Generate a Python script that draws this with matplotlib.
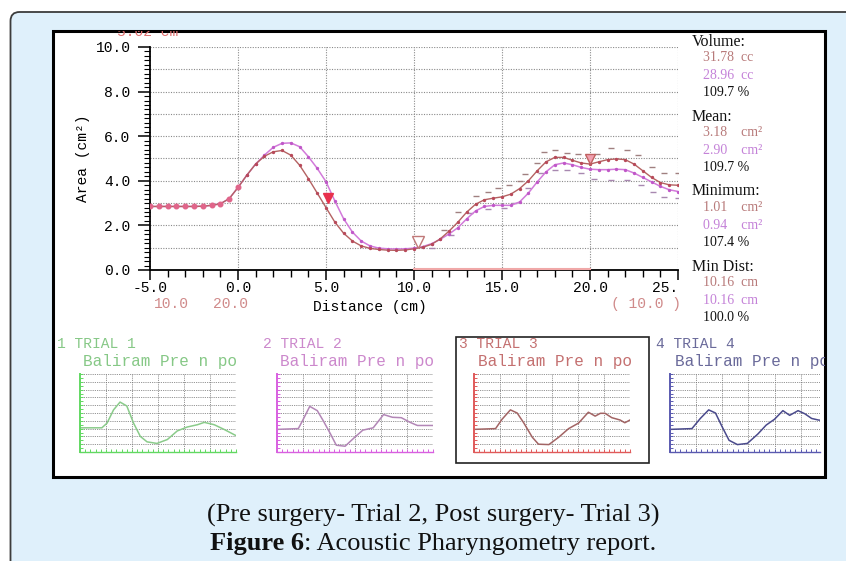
import matplotlib
matplotlib.use('Agg')
import matplotlib.pyplot as plt
from matplotlib.patches import Rectangle, FancyBboxPatch
from matplotlib.ticker import MultipleLocator

# ---------------- data ----------------
dist = [-5.0, -4.5, -4.0, -3.5, -3.0, -2.5, -2.0, -1.5, -1.0, -0.5,
        0.0, 0.5, 1.0, 1.5, 2.0, 2.5, 3.0, 3.5, 4.0, 4.5,
        5.0, 5.5, 6.0, 6.5, 7.0, 7.5, 8.0, 8.5, 9.0, 9.5,
        10.0, 10.5, 11.0, 11.5, 12.0, 12.5, 13.0, 13.5, 14.0, 14.5,
        15.0, 15.5, 16.0, 16.5, 17.0, 17.5, 18.0, 18.5, 19.0, 19.5,
        20.0, 20.5, 21.0, 21.5, 22.0, 22.5, 23.0, 23.5, 24.0, 24.5, 25.0]
area_post = [2.85, 2.85, 2.85, 2.85, 2.85, 2.85, 2.86, 2.90, 2.97, 3.20,
             3.70, 4.25, 4.75, 5.10, 5.30, 5.36, 5.15, 4.70, 4.10, 3.45,
             2.80, 2.15, 1.65, 1.30, 1.08, 0.97, 0.92, 0.89, 0.88, 0.90,
             0.95, 1.02, 1.15, 1.40, 1.75, 2.15, 2.60, 2.95, 3.15, 3.22,
             3.28, 3.40, 3.65, 4.00, 4.45, 4.85, 5.05, 5.05, 4.92, 4.80,
             4.75, 4.85, 4.95, 4.98, 4.95, 4.75, 4.45, 4.15, 3.92, 3.82, 3.80]
area_pre = [2.85, 2.85, 2.85, 2.85, 2.85, 2.85, 2.86, 2.90, 2.97, 3.20,
            3.70, 4.25, 4.75, 5.15, 5.50, 5.68, 5.70, 5.53, 5.08, 4.56,
            3.96, 3.10, 2.30, 1.70, 1.30, 1.08, 0.98, 0.95, 0.94, 0.95,
            0.98, 1.05, 1.18, 1.38, 1.62, 1.90, 2.30, 2.65, 2.85, 2.90,
            2.90, 2.90, 3.05, 3.45, 3.95, 4.40, 4.72, 4.80, 4.72, 4.60,
            4.52, 4.50, 4.50, 4.52, 4.50, 4.35, 4.15, 3.95, 3.75, 3.60, 3.52]
band_up_x = [11.7, 12.5, 13.5, 14.2, 14.75, 15.4, 16.0, 16.3, 17.0, 17.4, 18.0,
             18.7, 19.3, 20.4, 21.2, 22.1, 22.7, 23.5, 24.2, 25.0]
band_up_y = [1.80, 2.60, 3.30, 3.50, 3.66, 3.80, 4.00, 4.30, 4.80, 5.30, 5.38,
             5.23, 5.20, 5.20, 5.45, 5.38, 5.15, 4.63, 4.35, 4.35]
band_lo_x = [11.0, 12.1, 13.2, 14.2, 15.1, 15.7, 16.45, 17.2, 18.0, 18.7, 19.5,
             20.2, 21.2, 22.1, 22.9, 23.6, 24.2, 25.0]
band_lo_y = [0.98, 1.57, 2.55, 2.73, 2.78, 3.02, 3.66, 4.34, 4.48, 4.48, 4.34,
             4.07, 4.04, 4.04, 3.81, 3.51, 3.29, 3.23]
mark_x = [5.1, 10.2, 20.0]
mark_y = [3.25, 1.25, 4.98]
range_x = [10.0, 20.0]
x_ticks = [-5, 0, 5, 10, 15, 20, 25]
x_ticklabels = ['-5.0', '0.0', '5.0', '10.0', '15.0', '20.0', '25.']
y_ticks = [0, 2, 4, 6, 8, 10]
y_ticklabels = ['0.0', '2.0', '4.0', '6.0', '8.0', '10.0']

stats = [("Volume:", None), ("31.78  cc", 'post'), ("28.96  cc", 'pre'), ("109.7 %", 'k'),
         ("Mean:", None), ("3.18    cm\u00b2", 'post'), ("2.90    cm\u00b2", 'pre'), ("109.7 %", 'k'),
         ("Minimum:", None), ("1.01    cm\u00b2", 'post'), ("0.94    cm\u00b2", 'pre'), ("107.4 %", 'k'),
         ("Min Dist:", None), ("10.16  cm", 'post'), ("10.16  cm", 'pre'), ("100.0 %", 'k')]

trial_titles = ["1 TRIAL 1", "2 TRIAL 2", "3 TRIAL 3", "4 TRIAL 4"]
trial_names = ["Baliram Pre n po"] * 4
t1_x = [-5, -0.8, 0.2, 1.45, 2.7, 4.0, 5.3, 6.6, 7.9, 9.8, 11.8, 13.7, 15.6, 17.6, 18.9, 20.8, 22.7, 25]
t1_y = [3.1, 3.1, 3.7, 5.4, 6.4, 5.9, 3.7, 2.0, 1.3, 1.1, 1.6, 2.7, 3.2, 3.5, 3.8, 3.5, 2.9, 2.1]
t2_x = [-5, -0.9, -0.1, 1.3, 2.75, 3.9, 5.3, 6.4, 8.1, 9.8, 11.5, 13.5, 15.5, 17.2, 18.9, 20.6, 22.0, 25]
t2_y = [2.9, 3.0, 4.0, 5.85, 5.3, 4.0, 2.3, 0.87, 0.74, 1.8, 2.8, 3.1, 4.8, 4.45, 4.4, 3.8, 3.4, 3.4]
t3_x = [-5, -0.85, 0.4, 2.0, 3.3, 4.6, 6.2, 7.4, 9.4, 11.3, 13.2, 15.1, 17.0, 18.3, 19.3, 20.2, 21.5, 23.1, 24.0, 25]
t3_y = [2.9, 3.0, 4.2, 5.4, 5.0, 3.7, 1.9, 1.0, 0.95, 1.9, 3.0, 3.7, 5.1, 4.6, 4.96, 4.96, 4.4, 4.1, 3.75, 4.1]
t4_x = [-5, -0.8, 0.8, 2.4, 3.7, 5.0, 6.3, 7.9, 9.8, 11.8, 13.4, 15.0, 16.6, 17.9, 19.5, 20.8, 22.1, 23.4, 25]
t4_y = [2.9, 3.0, 4.3, 5.4, 5.0, 3.2, 1.5, 0.95, 1.1, 2.3, 3.45, 4.2, 5.3, 4.7, 5.3, 4.9, 4.3, 4.1, 4.0]

# ---------------- styling ----------------
C_POST = '#b46262'
C_PRE = '#d27ada'
C_POST_TXT = '#b87a7a'
C_PRE_TXT = '#c482d8'
MONO = 'Liberation Mono'
SERIF = 'Liberation Serif'

W, H = 846, 561
fig = plt.figure(figsize=(W / 100, H / 100), dpi=100)
fig.patch.set_facecolor('white')


def px_axes(x0, y0, x1, y1):
    return fig.add_axes([x0 / W, 1 - y1 / H, (x1 - x0) / W, (y1 - y0) / H])


bg = px_axes(0, 0, W, H)
bg.set_xlim(0, W)
bg.set_ylim(H, 0)
bg.axis('off')
bg.add_patch(FancyBboxPatch((10.5, 12), 900, 600, boxstyle='round,pad=0,rounding_size=9',
                            fc='#dff0fb', ec='#3c3c3c', lw=1.3))
bg.add_patch(Rectangle((53, 31), 772, 446, fc='white', ec='black', lw=2.2))
bg.add_patch(Rectangle((456, 337), 193, 126, fc='none', ec='#222222', lw=1.2))

# inner clipping axes in pixel coordinates
ai = px_axes(53, 31, 825, 477)
ai.set_xlim(53, 825)
ai.set_ylim(477, 31)
ai.axis('off')
ai.patch.set_alpha(0)

ai.text(148, 32, "5.02 cm", color='#e07070', fontsize=10.5, family=MONO,
        ha='center', va='center', clip_on=True)

# ---------------- main chart ----------------
ax = px_axes(150, 47, 678, 270)
ax.set_xlim(-5, 25)
ax.set_ylim(0, 10)
ax.patch.set_alpha(0)
for s in ['top', 'right']:
    ax.spines[s].set_visible(False)
for s in ['left', 'bottom']:
    ax.spines[s].set_linewidth(1.3)
for yv in range(1, 11):
    ax.axhline(yv, color='#8a8a8a', ls=(0, (1, 1.3)), lw=0.8, zorder=0)
for xv in x_ticks[1:]:
    ax.axvline(xv, color='#8a8a8a', ls=(0, (1, 1.3)), lw=0.8, zorder=0)

ax.set_xticks(x_ticks)
ax.set_xticklabels(x_ticklabels, family=MONO, fontsize=10.5)
ax.xaxis.get_ticklabels()[-1].set_ha('right')
ax.set_yticks(y_ticks)
ax.set_yticklabels(y_ticklabels, family=MONO, fontsize=10.5)
ax.xaxis.set_minor_locator(MultipleLocator(1))
ax.yaxis.set_minor_locator(MultipleLocator(0.2))
ax.tick_params(axis='x', which='major', direction='out', length=7, width=1.1, pad=1)
ax.tick_params(axis='x', which='minor', direction='out', length=5, width=1.0)
ax.tick_params(axis='y', which='major', direction='out', length=9, width=1.1, pad=5)
ax.tick_params(axis='y', which='minor', direction='out', length=4, width=0.8)

ax.plot(range_x, [0.04, 0.04], color='#f0a8a8', lw=1.5, clip_on=False, zorder=3)

ax.plot(band_up_x, band_up_y, ls='none', marker='_', ms=4, mew=1.0, color='#a08080', zorder=2)
ax.plot(band_lo_x, band_lo_y, ls='none', marker='_', ms=4, mew=1.0, color='#a888b0', zorder=2)

ax.plot(dist, area_pre, color=C_PRE, lw=1.1, zorder=3)
ax.plot(dist, area_post, color=C_POST, lw=1.0, zorder=4)
ax.plot(dist, area_pre, ls='none', marker='.', ms=2.8, color='#c058c8', zorder=4,
        markevery=slice(9, 61, 1))
ax.plot(dist, area_post, ls='none', marker='.', ms=2.8, color='#b84a5a', zorder=5,
        markevery=slice(9, 61, 1))
ax.plot(dist, area_post, ls='none', marker='o', ms=3.3, color='#e0658a', zorder=6,
        markevery=slice(0, 11, 1))

ax.plot(mark_x[:1], mark_y[:1], ls='none', marker='v', ms=7, color='#e8304c', zorder=7)
ax.plot(mark_x[1:2], mark_y[1:2], ls='none', marker='v', ms=8, mfc='white', mec='#c07878',
        mew=1.0, zorder=7)
ax.plot(mark_x[2:], mark_y[2:], ls='none', marker='v', ms=7, mfc='#f0a0b0', mec='#c06060',
        mew=1.0, zorder=7)

# axis labels & annotations (pixel coords)
ai.text(83, 158, "Area (cm\u00b2)", rotation=90, family=MONO, fontsize=10.5,
        ha='center', va='center')
ai.text(370, 307, "Distance (cm)", family=MONO, fontsize=10.5, ha='center', va='center')
ai.text(171, 304, "10.0", family=MONO, fontsize=10.5, ha='center', va='center', color='#d08a8a')
ai.text(230, 304, "20.0", family=MONO, fontsize=10.5, ha='center', va='center', color='#d08a8a')
ai.text(646, 304, "( 10.0 )", family=MONO, fontsize=10.5, ha='center', va='center', color='#d08a8a')

# stats panel
ys = [42, 58, 76, 93, 117, 133, 151, 168, 191, 208, 226, 243, 267, 283, 301, 318]
for (txt, kind), yy in zip(stats, ys):
    if kind is None:
        ai.text(692, yy, txt, family=SERIF, fontsize=11.5, ha='left', va='center', color='#111111')
    else:
        col = {'post': C_POST_TXT, 'pre': C_PRE_TXT, 'k': '#111111'}[kind]
        ai.text(703, yy, txt, family=SERIF, fontsize=10, ha='left', va='center', color=col)

# ---------------- thumbnails ----------------
thumbs = [
    (80, 236, t1_x, t1_y, '#62d862', '#8acb8a', '#86c886', 25, 57, 83),
    (277, 433, t2_x, t2_y, '#d860e0', '#b286b6', '#cc88cc', 25, 263, 280),
    (474, 630, t3_x, t3_y, '#e05a5a', '#a26464', '#c47070', 25, 459, 478),
    (670, 820, t4_x, t4_y, '#5a5ab0', '#4a4a8c', '#6a6a9a', 23.7, 656, 675),
]
for i, (x0, x1, tx, ty, acol, ccol, tcol, xr, lx1, lx2) in enumerate(thumbs):
    ta = px_axes(x0, 374, x1, 452)
    ta.set_xlim(-5, xr)
    ta.set_ylim(0, 10)
    ta.patch.set_alpha(0)
    for s in ['top', 'right']:
        ta.spines[s].set_visible(False)
    ta.spines['left'].set_color(acol)
    ta.spines['left'].set_linewidth(1.4)
    ta.spines['bottom'].set_color(acol)
    ta.spines['bottom'].set_linewidth(1.0)
    for yv in range(1, 11):
        ta.axhline(yv, color='#707070', ls=(0, (1, 1.2)), lw=0.6, zorder=0)
    for xv in [0, 5, 10, 15, 20, 25]:
        ta.axvline(xv, color='#707070', ls=(0, (1, 1.2)), lw=0.6, zorder=0)
    ta.set_xticks([])
    ta.set_yticks([])
    ta.xaxis.set_minor_locator(MultipleLocator(1))
    ta.yaxis.set_minor_locator(MultipleLocator(0.5))
    ta.tick_params(which='minor', direction='in', length=2, width=0.7, colors=acol)
    ta.plot(tx, ty, color=ccol, lw=1.1)
    ai.text(lx1, 344, trial_titles[i], family=MONO, fontsize=10.5, color=tcol,
            ha='left', va='center', clip_on=True)
    ai.text(lx2, 362, trial_names[i], family=MONO, fontsize=11.5, color=tcol,
            ha='left', va='center', clip_on=True)

# ---------------- caption ----------------
bg.text(433, 522, "(Pre surgery- Trial 2, Post surgery- Trial 3)", family=SERIF,
        fontsize=19, ha='center', va='baseline', color='#111111')
renderer = fig.canvas.get_renderer()
t_b = bg.text(0, 550, "Figure 6", family=SERIF, fontsize=19, weight='bold',
              ha='left', va='baseline', color='#111111')
t_n = bg.text(0, 550, ": Acoustic Pharyngometry report.", family=SERIF, fontsize=19,
              ha='left', va='baseline', color='#111111')
wb = t_b.get_window_extent(renderer).width
wn = t_n.get_window_extent(renderer).width
start = 433 - (wb + wn) / 2
t_b.set_x(start)
t_n.set_x(start + wb)

fig.savefig('out.png', dpi=100)
